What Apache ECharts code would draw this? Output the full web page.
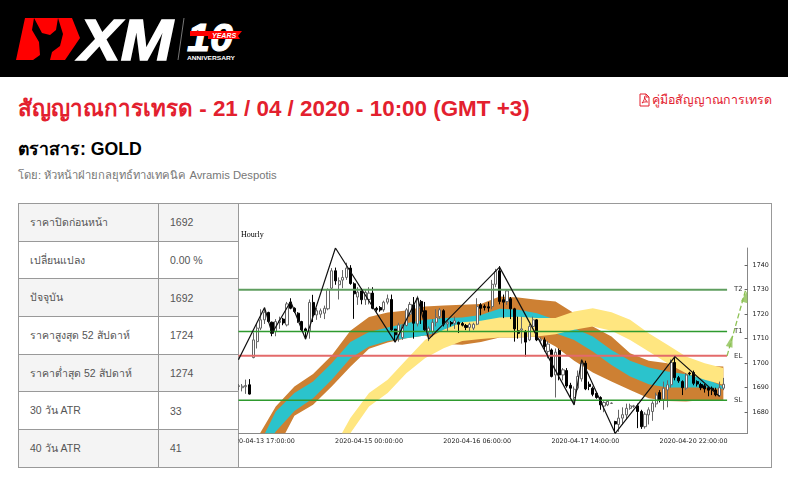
<!DOCTYPE html>
<html lang="th">
<head>
  <meta charset="UTF-8">
  <title>สัญญาณการเทรด - GOLD</title>
  <script src="https://cdn.jsdelivr.net/npm/echarts@6/dist/echarts.min.js"></script>
  <style>
    html, body { margin: 0; padding: 0; background: #fff; width: 788px; height: 477px; overflow: hidden; font-family: "Liberation Sans", "Noto Sans", sans-serif; }
    .abs { position: absolute; white-space: nowrap; }
    #top { left: 0; top: 0; width: 788px; height: 77px; background: #000; }
    #title { left: 18px; top: 96px; font-size: 22.4px; line-height: 26px; font-weight: bold; color: #e3202e; }
    #guide { left: 652px; top: 92px; font-size: 12.4px; line-height: 16px; color: #e3202e; }
    #pdf { left: 639px; top: 93px; }
    #instrument { left: 18px; top: 139px; font-size: 17.7px; line-height: 20px; font-weight: bold; color: #000; }
    #byline { left: 18px; top: 167px; font-size: 11.25px; line-height: 16px; color: #777; }
    #facts { left: 18px; top: 203px; width: 220px; border-collapse: collapse; table-layout: fixed; font-size: 10.5px; color: #555; }
    #facts td { border: 1px solid #999; padding: 0 0 0 11px; height: 37.7px; box-sizing: border-box; }
    #facts tr:nth-child(odd) td { background: #f4f4f4; }
    #frame { left: 237px; top: 203px; width: 535px; height: 265px; box-sizing: border-box; border: 1px solid #999; border-left: none; }
    #main { left: 238px; top: 205px; width: 533px; height: 261px; filter: blur(0.3px); }
  </style>
</head>
<body>
  <div id="top" class="abs">
    <svg width="260" height="77" viewBox="0 0 260 77">
      <polygon points="16,60 25,18 72,18 80,38 65,60" fill="#ff0000"/>
      <polygon points="34,18 32,30 39,42 40,55 33,60 50,60 52,52 60,46 63,34 58,18 56,30 50,35 42,33" fill="#000"/>
      <text x="79" y="60" font-family="Liberation Sans" font-size="58" font-weight="bold" font-style="italic" fill="#fff" stroke="#fff" stroke-width="1.5" textLength="94" lengthAdjust="spacingAndGlyphs">XM</text>
      <line x1="184" y1="18" x2="178" y2="60" stroke="#777" stroke-width="1"/>
      <text x="187" y="51" font-family="Liberation Sans" font-size="38" font-weight="bold" font-style="italic" fill="#fff" stroke="#fff" stroke-width="1" textLength="46" lengthAdjust="spacingAndGlyphs">10</text>
      <polygon points="190,31 208,31 208,36 190,36" fill="#ff0000"/>
      <polygon points="208,31 242,31 238,36 240,39 208,39" fill="#ff0000"/>
      <text x="212" y="38" font-family="Liberation Sans" font-size="7" font-weight="bold" font-style="italic" fill="#fff">YEARS</text>
      <text x="187" y="60" font-family="Liberation Sans" font-size="6" font-weight="bold" fill="#fff" textLength="48" lengthAdjust="spacingAndGlyphs">ANNIVERSARY</text>
    </svg>
  </div>
  <div id="title" class="abs">สัญญาณการเทรด - 21 / 04 / 2020 - 10:00 (GMT +3)</div>
  <svg id="pdf" class="abs" width="11" height="14" viewBox="0 0 11 14">
    <path d="M1 1 H7 L10 4 V13 H1 Z M7 1 V4 H10 M3 10 C5 8 6 5 5.5 3.5 C6 6 7 8 8.5 9 C6.5 8.6 5 9 3 10 Z" fill="none" stroke="#e3202e" stroke-width="1"/>
  </svg>
  <div id="guide" class="abs">คู่มือสัญญาณการเทรด</div>
  <div id="instrument" class="abs">ตราสาร: GOLD</div>
  <div id="byline" class="abs">โดย: หัวหน้าฝ่ายกลยุทธ์ทางเทคนิค Avramis Despotis</div>
  <table id="facts" class="abs"></table>
  <div id="frame" class="abs"></div>
  <div id="main" class="abs"></div>

  <script>
    // Table on the left
    const factLabels = ['ราคาปิดก่อนหน้า', 'เปลี่ยนแปลง', 'ปัจจุบัน', 'ราคาสูงสุด 52 สัปดาห์', 'ราคาต่ำสุด 52 สัปดาห์', '30 วัน ATR', '40 วัน ATR'];
    const factValues = ['1692', '0.00 %', '1692', '1724', '1274', '33', '41'];

    // Hourly candles: [open, close, low, high]
    const candles = [
      [1690.5,1690.8,1689,1691.5],[1690,1690.6,1688.5,1691.5],[1690.4,1690.9,1687.5,1693.3],[1691.2,1687.4,1687.2,1693.5],
      [1702.3,1709.5,1702,1712.5],[1708.8,1714.3,1706,1716],[1714.3,1717.7,1713.5,1722],[1717.7,1720.8,1716,1722.4],
      [1720.7,1717,1716.5,1721],[1716.7,1712.2,1711,1717],[1712.9,1717,1711,1718],[1716.6,1717.3,1714,1719],
      [1718,1716.4,1715.5,1718.5],[1715.6,1724.2,1715,1725],[1724.9,1722.4,1722,1726.5],[1722.4,1721.1,1720.5,1722.8],
      [1720.4,1717,1716.5,1720.8],[1717,1713.6,1713,1717.3],[1714,1712.9,1710.2,1714.5],[1713.2,1724.8,1710,1726],
      [1724.8,1719.7,1716.8,1727.9],[1719.7,1721.4,1717.7,1722.5],[1720,1721.4,1718.5,1722.3],[1720.4,1722.4,1718,1723.5],
      [1722.2,1730,1721.6,1730.5],[1730.6,1737.7,1730,1738.8],[1737.7,1733.6,1732,1739],[1732,1733.6,1726,1735],
      [1733.9,1735,1730.6,1738],[1735,1738.8,1734,1741],[1738.8,1732.5,1732,1740],[1732.4,1728.3,1718.1,1733],
      [1727,1729,1723.8,1731],[1729.5,1725.9,1724,1730.5],[1725.9,1728.9,1723.8,1730],[1726,1728.6,1724,1731],
      [1728.6,1722.4,1722,1731],[1722.4,1721.8,1721,1723],[1722.7,1721.7,1721,1723.3],[1721.8,1724.9,1721,1725.5],
      [1724.9,1726.3,1724,1728],[1726,1713.6,1713,1728],[1713.9,1711.6,1709,1714],[1711.6,1715.6,1708.8,1716.5],
      [1710.5,1715.4,1709.5,1716],[1715.4,1721.8,1715,1722.5],[1720,1724,1719,1725],[1723.8,1716.3,1710,1727],
      [1716,1726.5,1715,1727.5],[1725.2,1721,1716,1725.8],[1721.4,1713.6,1713,1725],[1712.9,1714.3,1709,1715],
      [1712.9,1716.7,1711,1718],[1716.7,1718.6,1715,1722],[1719,1721.8,1718,1722.5],[1721.4,1715.9,1715,1722],
      [1716,1716.7,1713,1717.5],[1716.6,1716,1715,1717.2],[1716.3,1717.3,1714,1719],[1716.6,1715.9,1712.3,1717],
      [1716.2,1715.5,1715,1716.8],[1715.4,1714.6,1713.5,1716],[1714.6,1715.9,1713,1716.5],[1714.3,1715.9,1713.5,1716.5],
      [1715.9,1723.1,1715.5,1726.5],[1723.8,1722.4,1719.5,1724.5],[1723.2,1722.7,1721.5,1724],[1723,1722.5,1721,1725],
      [1723.1,1732.2,1722,1734],[1732.2,1737.4,1731,1738.5],[1737.7,1725.2,1724,1739.6],[1725.9,1724.9,1718.4,1728],
      [1725.2,1729.5,1723.8,1730],[1726.3,1722.2,1718,1727],[1722.2,1714,1708.8,1722.6],[1713.2,1712.2,1710,1719],
      [1713.5,1714,1708,1719],[1712.9,1708.6,1702.7,1713.5],[1709.5,1715,1709,1716],[1715,1717.7,1714,1719],
      [1717.7,1709.5,1709,1718],[1709.2,1709.8,1708,1710.5],[1709.5,1706.8,1704.8,1710.5],[1704.8,1707.8,1702,1709],
      [1705.4,1694.6,1694.2,1706],[1695.2,1704.5,1686,1706],[1705.2,1695.2,1693,1706],[1695.2,1697.3,1693,1698],
      [1697,1690.7,1690,1698],[1691,1689.8,1686,1692],[1686,1689.4,1683.3,1690.5],[1689.8,1694.6,1689,1697],
      [1693.6,1700,1692.5,1701.5],[1700,1689.5,1689,1701],[1691.4,1690.5,1689,1692.5],[1689.8,1687.3,1686.5,1690.5],
      [1687.7,1686,1685.5,1688.3],[1686,1683,1681,1686.5],[1682.5,1684,1680,1684.5],[1683,1684.4,1682.5,1684.8],
      [1683.6,1683.7,1683.4,1684],[1676.2,1675.2,1671.5,1676.5],[1675,1677.6,1672,1681],[1677.6,1679,1675,1682],
      [1678.9,1681.6,1677,1683.5],[1681.6,1682.6,1681,1683.5],[1682.3,1682.6,1681.8,1683],[1682.6,1680.3,1673.5,1683.5],
      [1680.3,1674.1,1673.2,1681],[1674.1,1679.2,1673.3,1680],[1678.9,1681,1675,1682],[1680.3,1683.7,1676.5,1684.5],
      [1683.4,1687,1682,1688],[1688,1685,1684,1689],[1685.3,1689.8,1681,1692.5],[1689.1,1691.2,1682,1693],
      [1691.2,1700.3,1690,1701.5],[1700.3,1694.1,1693,1702.5],[1694.1,1692.8,1692,1694.8],[1692.5,1690,1687,1693],
      [1689.8,1695.2,1689,1696],[1696,1695.7,1695,1696.5],[1696.2,1691.8,1691,1697],[1692.5,1691.5,1690.5,1693],
      [1691.3,1690,1689,1692],[1690.8,1689.5,1688,1691.5],[1690,1689,1686.5,1690.5],[1689.8,1689,1687,1690.5],
      [1689.1,1687.1,1686.5,1690],[1686.8,1690,1686.5,1692.5],[1689.8,1691.4,1689,1694]
    ];

    // Time axis: one slot per hourly bar, a label on every 29th
    const barCount = 137;
    const tickBars = [6, 35, 64, 93, 122];
    const tickLabels = ['2020-04-13 17:00:00', '2020-04-15 00:00:00', '2020-04-16 06:00:00', '2020-04-17 14:00:00', '2020-04-20 22:00:00'];
    const priceTicks = [1680, 1690, 1700, 1710, 1720, 1730, 1740];

    // Moving average bands, edges read every 5 bars
    const bandBars = [5,10,15,20,25,30,35,40,45,50,55,60,65,70,75,80,85,90,95,100,105,110,115,120,125,130];
    const brownUpper = [1669.4,1682.3,1690.5,1695.6,1703.1,1713.2,1718.8,1720.7,1721.5,1723.1,1723.5,1723.8,1724.2,1727.2,1726.8,1725.9,1725.2,1720.4,1715,1710.9,1704.1,1701,1700,1699.3,1699,1698.7];
    const brownLower = [1660,1664,1678.6,1683,1690.5,1698.6,1705.9,1708.4,1710.2,1711.3,1707.8,1707.5,1708.6,1710.5,1710.5,1710.9,1706.8,1701,1696.2,1692.5,1689.1,1685.7,1684.6,1684.4,1685,1685];
    const tealUpper = [1665,1680.3,1687.8,1692.5,1700,1708.6,1712.7,1714.6,1716.3,1717.7,1718.4,1718.6,1719.7,1722.2,1721.8,1720.4,1717.7,1714.3,1710.9,1705.4,1701,1698.2,1696.6,1695.5,1693.9,1690.5];
    const tealLower = [1660,1672.1,1680.5,1685.7,1693.2,1702,1706.8,1709.1,1710.2,1711.3,1713,1713.6,1714.3,1717.7,1717.7,1717,1712.2,1709.5,1704.8,1699.3,1694.6,1691.4,1690.1,1690.1,1690.1,1689.5];
    const yellowBars = [25,30,35,40,45,50,55,60,65,70,75,80,85,90,95,100,105,110,115,120,125,130];
    const yellowUpper = [1664,1677.6,1687.8,1693.2,1701.4,1709.5,1713.6,1716.7,1717.3,1718.6,1718.9,1718.4,1718.4,1721.1,1722.4,1720.8,1717.7,1712.2,1707.5,1702.7,1700,1698];
    const yellowLower = [1658.5,1671.4,1682.3,1687.8,1695.9,1702,1706.1,1709.1,1709.9,1710.5,1710.5,1710.9,1711.8,1713.6,1715,1713.2,1709.5,1704.8,1700,1695.9,1693.2,1691.2];

    // Zigzag swing points
    const zigzagBars = [0, 7, 9, 14, 18, 26, 42, 48, 51, 70, 90, 92, 101, 107, 117, 129];
    const zigzagPrices = [1701.4, 1722.7, 1712.2, 1725.2, 1709.8, 1747, 1708.6, 1726.8, 1709.8, 1739.2, 1683, 1701.4, 1671.4, 1683, 1702.7, 1686.4];

    // Trade levels
    const levelNames = ['T2', 'T1', 'EL', 'SL'];
    const levelPrices = [1730, 1712.9, 1703, 1684.9];
    const levelColors = ['#5f9e5f', '#2e9a2e', '#e36a6a', '#2e9a2e'];
    const levelWidths = [2, 1.5, 2, 1.5];
    const levelEndBar = 131;

    // Dashed target arrow
    const arrowBars = [131, 136];
    const arrowPrices = [1703, 1730];
    const arrowHeadBars = [132, 136];
    const arrowHeadPrices = [1709, 1727.2];

    // Fill in the table
    document.getElementById('facts').innerHTML =
      '<colgroup><col style="width:140px"><col style="width:79.5px"></colgroup>' +
      factLabels.map((label, i) => '<tr><td>' + label + '</td><td>' + factValues[i] + '</td></tr>').join('');

    const myChart = echarts.init(document.getElementById('main'));
    const axisFont = { fontFamily: 'DejaVu Sans', fontSize: 6.4, color: '#222' };
    const categories = [];
    for (let i = 0; i < barCount; i++) {
      const t = tickBars.indexOf(i);
      categories.push(t >= 0 ? tickLabels[t] : '');
    }

    // One filled polygon for a band, upper edge forward and lower edge back
    function bandSeries(name, bars, upper, lower, color, z) {
      return {
        name: name,
        type: 'custom',
        z: z,
        clip: true,
        silent: true,
        data: [[0, 1700]],
        renderItem: function (params, api) {
          const points = [];
          bars.forEach((b, i) => points.push(api.coord([b, upper[i]])));
          for (let i = bars.length - 1; i >= 0; i--) points.push(api.coord([bars[i], lower[i]]));
          return {
            type: 'polygon',
            shape: { points: points },
            style: { fill: color, stroke: null }
          };
        }
      };
    }

    const levelSeries = levelNames.map((name, i) => ({
      name: name,
      type: 'line',
      z: 4,
      showSymbol: false,
      silent: true,
      data: [[0, levelPrices[i]], [levelEndBar, levelPrices[i]]],
      lineStyle: { color: levelColors[i], width: levelWidths[i] },
      endLabel: {
        show: true,
        formatter: name,
        distance: 7,
        fontFamily: 'DejaVu Sans',
        fontSize: 7,
        color: '#333'
      }
    }));

    const options = {
      animation: false,
      title: {
        text: 'Hourly',
        left: 3,
        top: 26,
        padding: 0,
        textStyle: { fontFamily: 'Liberation Serif', fontSize: 8, fontWeight: 'normal', color: '#000' }
      },
      grid: { left: -1.4, top: 43, width: 511, height: 185.3, outerBoundsMode: 'none' },
      xAxis: {
        type: 'category',
        data: categories,
        axisLine: { lineStyle: { color: '#888', width: 1 } },
        axisTick: {
          inside: true,
          length: 4,
          alignWithLabel: true,
          interval: (i) => tickBars.includes(i),
          lineStyle: { color: '#666' }
        },
        axisLabel: Object.assign({ interval: (i) => tickBars.includes(i), margin: 5, hideOverlap: false }, axisFont)
      },
      yAxis: {
        type: 'value',
        position: 'right',
        min: 1671.4,
        max: 1747,
        splitLine: { show: false },
        axisLine: { show: true, lineStyle: { color: '#888', width: 1 } },
        axisTick: { show: true, inside: true, length: 3, customValues: priceTicks, lineStyle: { color: '#666' } },
        axisLabel: Object.assign({ customValues: priceTicks, margin: 5, formatter: (v) => String(v) }, axisFont)
      },
      series: [
        bandSeries('brown band', bandBars, brownUpper, brownLower, '#cd8033', 1),
        bandSeries('teal band', bandBars, tealUpper, tealLower, '#2bc3cc', 1),
        bandSeries('yellow band', yellowBars, yellowUpper, yellowLower, '#ffe680', 1),
        {
          name: 'Hourly',
          type: 'candlestick',
          z: 3,
          barWidth: 2.6,
          data: candles,
          itemStyle: { color: '#fff', color0: '#000', borderColor: '#666', borderColor0: '#000', borderWidth: 1 }
        },
        ...levelSeries,
        {
          name: 'zigzag',
          type: 'line',
          z: 5,
          showSymbol: false,
          silent: true,
          data: zigzagBars.map((b, i) => [b, zigzagPrices[i]]),
          lineStyle: { color: '#111', width: 1.2 }
        },
        {
          name: 'target',
          type: 'line',
          z: 5,
          showSymbol: false,
          silent: true,
          data: arrowBars.map((b, i) => [b, arrowPrices[i]]),
          lineStyle: { color: '#8cc152', width: 1.3, type: 'dashed' }
        },
        {
          name: 'target head',
          type: 'scatter',
          z: 5,
          silent: true,
          symbol: 'triangle',
          symbolSize: [7, 12],
          symbolRotate: -16,
          data: arrowHeadBars.map((b, i) => [b, arrowHeadPrices[i]]),
          itemStyle: { color: '#8cc152' }
        }
      ]
    };
    myChart.setOption(options);
  </script>
</body>
</html>
